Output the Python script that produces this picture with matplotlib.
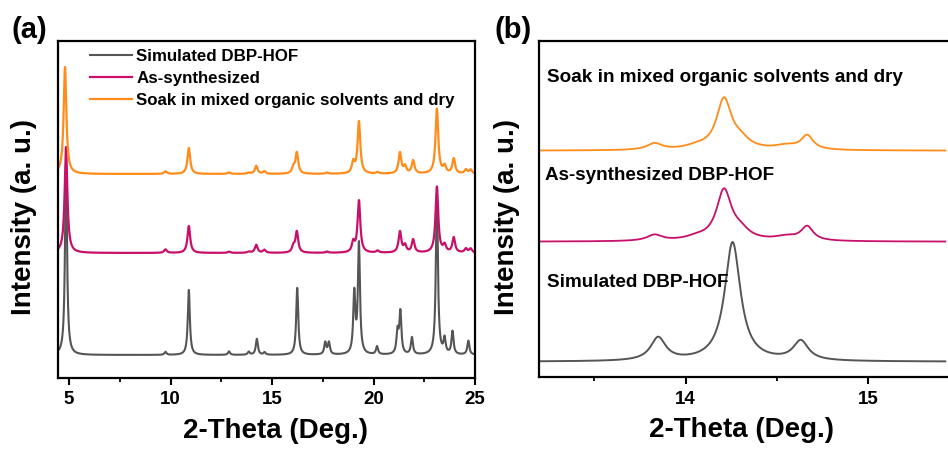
import numpy as np
import matplotlib
matplotlib.use("Agg")
from matplotlib import pyplot as plt

plt.rcParams["font.family"] = ["Liberation Sans", "DejaVu Sans"]
plt.rcParams["font.weight"] = "bold"

# XRD peak tables: position (deg 2-theta), intensity (a.u.)
# panel (a): full 2-theta range
sim_pos = [4.85, 9.75, 10.9, 12.88, 13.85, 14.25, 14.63, 16.24, 17.62, 17.8,
           19.05, 19.28, 20.17, 21.18, 21.32, 21.89, 23.12, 23.5, 23.89, 24.67]
sim_int = [190, 3, 65, 3.5, 3, 16, 2.5, 67, 12, 12,
           60, 110, 8, 22, 42, 17, 160, 15, 23, 14]

asyn_pos = [4.85, 9.75, 10.9, 12.88, 13.85, 14.22, 14.62, 16.05, 16.22, 17.7,
            19.0, 19.28, 20.2, 21.3, 21.55, 21.95, 23.12, 23.5, 23.95, 24.55, 24.78]
asyn_int = [106, 3.5, 27, 1.2, 1.2, 8, 3, 6, 21, 1.2,
            10, 52, 2, 21, 7, 13, 66, 7, 15, 4, 4]

soak_pos = [4.8, 9.75, 10.9, 12.88, 13.85, 14.22, 14.62, 16.05, 16.22, 17.7,
            19.0, 19.28, 20.2, 21.3, 21.55, 21.95, 23.12, 23.5, 23.95, 24.55, 24.78]
soak_int = [107, 2.5, 26, 1.5, 1.2, 8, 2.5, 6, 21, 1.2,
            11, 52, 1.5, 21, 7, 13, 65, 7, 15, 4, 4]

# panel (b): 13.2-15.4 deg zoom, with per-peak widths
sim_b_pos = [13.85, 14.257, 14.63]
sim_b_int = [23, 119, 19.5]
sim_b_fwhm = [0.1, 0.105, 0.1]

asyn_b_pos = [13.83, 14.06, 14.21, 14.30, 14.55, 14.665]
asyn_b_int = [6, 3, 50, 8, 4, 14]
asyn_b_fwhm = [0.1, 0.15, 0.1, 0.12, 0.15, 0.08]

soak_b_pos = [13.83, 14.06, 14.21, 14.30, 14.55, 14.665]
soak_b_int = [6.5, 3, 50, 8, 4, 14]
soak_b_fwhm = [0.1, 0.15, 0.1, 0.12, 0.15, 0.08]

labels = ["Simulated DBP-HOF", "As-synthesized",
          "Soak in mixed organic solvents and dry"]
colors = ["#555555", "#C8106A", "#FF8C1A"]


def pattern(x, pos, inten, fwhm):
    fwhm = np.broadcast_to(fwhm, np.shape(pos))
    y = np.zeros_like(x)
    for p, a, w in zip(pos, inten, fwhm):
        y += a / (1 + ((x - p) / (w / 2)) ** 2)
    return y


fig = plt.figure(figsize=(9.48, 4.5), dpi=100)
ax1 = fig.add_axes([0.0615, 0.1611, 0.4396, 0.7467])
ax2 = fig.add_axes([0.5689, 0.1622, 0.4436, 0.7467])

# panel (a)
xa = np.linspace(4.47, 25, 6000)
ax1.plot(xa, 22.5 + pattern(xa, sim_pos, sim_int, 0.12), color=colors[0], lw=1.5, label=labels[0])
ax1.plot(xa, 124.5 + pattern(xa, asyn_pos, asyn_int, 0.16), color=colors[1], lw=1.6, label=labels[1])
ax1.plot(xa, 203.5 + pattern(xa, soak_pos, soak_int, 0.16), color=colors[2], lw=1.6, label=labels[2])
ax1.set_xlim(4.47, 25)
ax1.set_ylim(0, 336)
ax1.set_xticks([5, 10, 15, 20, 25])
ax1.set_xticks([7.5, 12.5, 17.5, 22.5], minor=True)
ax1.legend(loc="upper left", bbox_to_anchor=(0.075, 0.978), frameon=False,
           prop={"size": 12.2, "weight": "bold"}, handlelength=2.5,
           handletextpad=0.25, labelspacing=0.42, borderpad=0, borderaxespad=0)

# panel (b)
xb = np.linspace(13.2, 15.42, 3000)
ax2.plot(xb, 15.3 + pattern(xb, sim_b_pos, sim_b_int, sim_b_fwhm), color=colors[0], lw=1.4)
ax2.plot(xb, 135.3 + pattern(xb, asyn_b_pos, asyn_b_int, asyn_b_fwhm), color=colors[1], lw=1.3)
ax2.plot(xb, 226.3 + pattern(xb, soak_b_pos, soak_b_int, soak_b_fwhm), color=colors[2], lw=1.3)
ax2.set_xlim(13.2, 15.42)
ax2.set_ylim(0, 336)
ax2.set_xticks([14, 15])
ax2.set_xticks([13.5, 14.5, 15.5], minor=True)
ax2.text(0.018, 0.891, "Soak in mixed organic solvents and dry", transform=ax2.transAxes,
         fontsize=13.6, fontweight="bold", va="center", ha="left")
ax2.text(0.014, 0.601, "As-synthesized DBP-HOF", transform=ax2.transAxes,
         fontsize=13.6, fontweight="bold", va="center", ha="left")
ax2.text(0.018, 0.281, "Simulated DBP-HOF", transform=ax2.transAxes,
         fontsize=13.6, fontweight="bold", va="center", ha="left")

for ax, lx in ((ax1, 0.522), (ax2, 0.48)):
    ax.set_yticks([])
    for s in ax.spines.values():
        s.set_linewidth(1.6)
    ax.tick_params(axis="x", which="major", direction="out", length=5, width=1.5,
                   labelsize=13.5, pad=5)
    ax.tick_params(axis="x", which="minor", direction="out", length=3, width=1.3)
    for t in ax.get_xticklabels():
        t.set_fontweight("bold")
    ax.set_xlabel("2-Theta (Deg.)", fontsize=20, fontweight="bold")
    ax.set_ylabel("Intensity (a. u.)", fontsize=20, fontweight="bold")
    ax.xaxis.set_label_coords(lx, -0.12)

ax1.yaxis.set_label_coords(-0.05, 0.478)
ax2.yaxis.set_label_coords(-0.047, 0.476)

fig.text(0.012, 0.965, "(a)", fontsize=21, fontweight="bold", va="top", ha="left")
fig.text(0.522, 0.965, "(b)", fontsize=21, fontweight="bold", va="top", ha="left")

fig.savefig("out.png", dpi=100)
